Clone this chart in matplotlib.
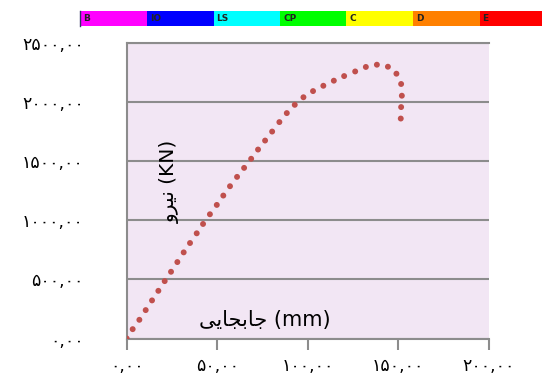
import matplotlib
matplotlib.use("Agg")
import matplotlib.pyplot as plt
from matplotlib.patches import Rectangle
from matplotlib.ticker import FuncFormatter

# displacement (mm) and force (KN)
displacement = [0.0, 3.3, 7.0, 10.5, 14.0, 17.5, 21.0, 24.5, 28.0, 31.5,
                35.0, 38.7, 42.2, 46.0, 49.8, 53.4, 57.1, 61.0, 64.9, 68.8,
                72.6, 76.5, 80.4, 84.4, 88.5, 92.9, 97.7, 103.0, 108.7, 114.5,
                120.2, 126.3, 132.2, 138.3, 144.4, 149.1, 151.7, 152.1, 151.7, 151.5]
force = [0, 79, 158, 240, 322, 403, 485, 564, 646, 728,
         807, 889, 968, 1050, 1129, 1208, 1287, 1366, 1442, 1519,
         1597, 1673, 1749, 1829, 1905, 1975, 2039, 2091, 2136, 2179,
         2218, 2257, 2295, 2314, 2297, 2238, 2151, 2052, 1956, 1859]

x_ticks = [0, 50, 100, 150, 200]
y_ticks = [0, 500, 1000, 1500, 2000, 2500]

levels = ["B", "IO", "LS", "CP", "C", "D", "E"]
level_colors = ["#FF00FF", "#0000FF", "#00FFFF", "#00FF00", "#FFFF00", "#FF8000", "#FF0000"]

# pre-shaped Persian labels (presentation forms, visual order)
xlabel = "\uFEF0\uFEF3\uFE8E\uFEA0\uFE91\uFE8E\uFE9F (mm)"   # جابجایی
ylabel = "\uFEED\uFEAE\uFEF4\uFEE7 (KN)"                      # نیرو

FA_DIGITS = str.maketrans("0123456789", "۰۱۲۳۴۵۶۷۸۹")


def fa_fmt(v, pos=None):
    return f"{v:.2f}".replace(".", ",").translate(FA_DIGITS)


W, H = 542, 383
fig = plt.figure(figsize=(W / 100, H / 100), dpi=100)
ax = fig.add_axes([126.7 / W, 1 - 338.5 / H, 361.8 / W, 295.8 / H])
ax.set_facecolor("#F2E6F4")

grid_c = "#8C8C8C"
ax.scatter(displacement, force, s=18, color="#C0504D", edgecolors="none", zorder=3)

ax.set_xlim(0, 200)
ax.set_ylim(0, 2500)
ax.set_xticks(x_ticks)
ax.set_yticks(y_ticks)
ax.xaxis.set_major_formatter(FuncFormatter(fa_fmt))
ax.yaxis.set_major_formatter(FuncFormatter(fa_fmt))
ax.yaxis.grid(True, color=grid_c, linewidth=1.5)
ax.set_axisbelow(True)

for side in ["left", "bottom", "top"]:
    ax.spines[side].set_color(grid_c)
    ax.spines[side].set_linewidth(1.5)
ax.spines["right"].set_visible(False)

ax.tick_params(axis="x", direction="out", length=8, width=1.5, color=grid_c,
               pad=5, labelsize=12.5)
ax.tick_params(axis="y", length=0, pad=31, labelsize=12.5)

ax.text(0.12, 0.532, ylabel, transform=ax.transAxes, rotation=90,
        ha="center", va="center", fontsize=14.5)
ax.text(0.382, 0.0625, xlabel, transform=ax.transAxes,
        ha="center", va="center", fontsize=15)

# performance level bar on top
x0, seg_w, y_top, bar_h = 80.5, 66.5, 11, 14.5
fig.add_artist(plt.Line2D([79.5 / W, 79.5 / W], [1 - y_top / H, 1 - (y_top + bar_h) / H],
                          color="#333366", linewidth=1, transform=fig.transFigure))
for i, (lab, col) in enumerate(zip(levels, level_colors)):
    left = x0 + i * seg_w
    fig.add_artist(Rectangle((left / W, 1 - (y_top + bar_h) / H), seg_w / W, bar_h / H,
                             facecolor=col, edgecolor="none", transform=fig.transFigure))
    fig.text((left + 3) / W, 1 - (y_top + bar_h / 2) / H, lab, fontsize=6.5,
             fontweight="bold", color="#222222", ha="left", va="center")

fig.savefig("out.png", dpi=100)
